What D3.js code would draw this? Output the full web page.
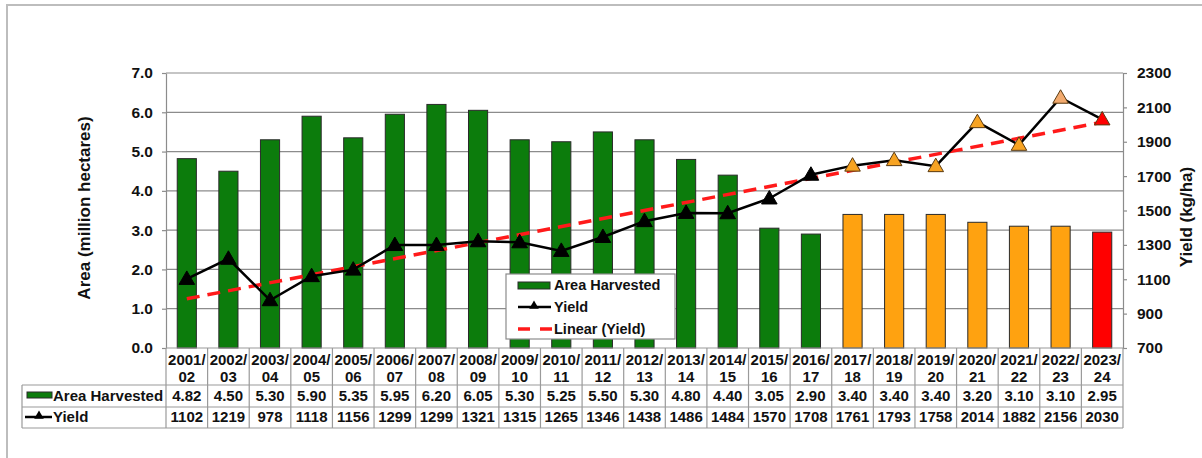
<!DOCTYPE html>
<html>
<head>
<meta charset="utf-8">
<script src="https://cdn.jsdelivr.net/npm/d3@7"></script>
<style>
  body { margin: 0; background: #fff; }
  svg { display: block; font-family: "Liberation Sans", Arial, sans-serif; font-weight: bold; }
  .axis text { fill: #111; }
  .axis line, .axis path { stroke: #8c8c8c; stroke-width: 1.2; }
</style>
</head>
<body>
<svg id="chart" width="1202" height="458"></svg>
<script>
// data
var categories = ["2001/02","2002/03","2003/04","2004/05","2005/06","2006/07","2007/08","2008/09",
  "2009/10","2010/11","2011/12","2012/13","2013/14","2014/15","2015/16","2016/17","2017/18",
  "2018/19","2019/20","2020/21","2021/22","2022/23","2023/24"];
var areaHarvested = [4.82,4.50,5.30,5.90,5.35,5.95,6.20,6.05,5.30,5.25,5.50,5.30,4.80,4.40,3.05,2.90,3.40,3.40,3.40,3.20,3.10,3.10,2.95];
var yieldKgHa = [1102,1219,978,1118,1156,1299,1299,1321,1315,1265,1346,1438,1486,1484,1570,1708,1761,1793,1758,2014,1882,2156,2030];
var yearKind = ["hist","hist","hist","hist","hist","hist","hist","hist","hist","hist","hist","hist","hist","hist","hist","hist",
  "est","est","est","est","est","est2","proj"];
var leftTicks = [0,1,2,3,4,5,6,7];
var rightTicks = [700,900,1100,1300,1500,1700,1900,2100,2300];

var barColor = {hist: "#0c7c0c", est: "#ffa210", est2: "#ffa210", proj: "#ff0000"};
var markColor = {hist: "#000", est: "#f7a322", est2: "#f2aa6e", proj: "#ff0000"};

var svg = d3.select("#chart");
var plotL = 166, plotR = 1123, plotT = 73, plotB = 348;
var rowA = 385, rowB = 407, rowEnd = 428, tableLeft = 22;
var grid = "#8c8c8c";

// outer frame (cropped in the picture, only top and left show)
svg.append("path").attr("d", "M7,458 V5 H1202").attr("fill", "none")
  .attr("stroke", "#bdbdbd").attr("stroke-width", 2);

var x = d3.scaleBand().domain(categories).range([plotL, plotR]).paddingInner(0.54).paddingOuter(0.27);
var step = x.step();
var yL = d3.scaleLinear().domain([0, 7]).range([plotB, plotT]);
var yR = d3.scaleLinear().domain([700, 2300]).range([plotB, plotT]);

// gridlines
svg.append("g").selectAll("line").data(leftTicks.slice(1)).enter().append("line")
  .attr("x1", plotL).attr("x2", plotR)
  .attr("y1", function(d) { return yL(d); }).attr("y2", function(d) { return yL(d); })
  .attr("stroke", grid).attr("stroke-width", 1.2);

// axes
var axL = svg.append("g").attr("class", "axis").attr("transform", "translate(" + plotL + ",0)")
  .call(d3.axisLeft(yL).tickValues(leftTicks).tickFormat(d3.format(".1f")).tickSize(4).tickSizeOuter(0).tickPadding(9));
axL.selectAll("text").style("font-size", "15.5px");
var axR = svg.append("g").attr("class", "axis").attr("transform", "translate(" + plotR + ",0)")
  .call(d3.axisRight(yR).tickValues(rightTicks).tickFormat(d3.format("d")).tickSize(4).tickSizeOuter(0).tickPadding(10));
axR.selectAll("text").style("font-size", "15.5px");

// axis titles
svg.append("text").attr("transform", "translate(90,208) rotate(-90)").attr("text-anchor", "middle")
  .style("font-size", "17px").attr("fill", "#111").text("Area (million hectares)");
svg.append("text").attr("transform", "translate(1192,217) rotate(-90)").attr("text-anchor", "middle")
  .style("font-size", "17px").attr("fill", "#111").text("Yield (kg/ha)");

// bars
svg.append("g").selectAll("rect").data(categories).enter().append("rect")
  .attr("x", function(d) { return x(d); })
  .attr("y", function(d, i) { return yL(areaHarvested[i]); })
  .attr("width", x.bandwidth())
  .attr("height", function(d, i) { return plotB - yL(areaHarvested[i]); })
  .attr("fill", function(d, i) { return barColor[yearKind[i]]; })
  .attr("stroke", "#2a2a2a").attr("stroke-width", 1);

// linear trend of yield (least squares, like the spreadsheet trendline)
var xs = d3.range(yieldKgHa.length), mx = d3.mean(xs), my = d3.mean(yieldKgHa);
var slope = d3.sum(xs, function(i) { return (i - mx) * (yieldKgHa[i] - my); }) /
            d3.sum(xs, function(i) { return (i - mx) * (i - mx); });
var cx = function(i) { return x(categories[i]) + x.bandwidth() / 2; };
svg.append("line")
  .attr("x1", cx(0)).attr("y1", yR(my + slope * (0 - mx)))
  .attr("x2", cx(xs.length - 1)).attr("y2", yR(my + slope * (xs.length - 1 - mx)))
  .attr("stroke", "#ff1a1a").attr("stroke-width", 3.5).attr("stroke-dasharray", "13,8");

// yield line
var line = d3.line().x(function(d, i) { return cx(i); }).y(function(d) { return yR(d); });
svg.append("path").datum(yieldKgHa).attr("d", line).attr("fill", "none")
  .attr("stroke", "#000").attr("stroke-width", 2.5);

var tri = d3.symbol().type(d3.symbolTriangle).size(105);
svg.append("g").selectAll("path").data(yieldKgHa).enter().append("path")
  .attr("d", tri)
  .attr("transform", function(d, i) { return "translate(" + cx(i) + "," + (yR(d) + 1) + ")"; })
  .attr("fill", function(d, i) { return markColor[yearKind[i]]; })
  .attr("stroke", function(d, i) { return yearKind[i] == "hist" ? "#000" : "#5a3a10"; })
  .attr("stroke-width", 1);

// legend
var lg = svg.append("g");
lg.append("rect").attr("x", 506).attr("y", 274).attr("width", 169).attr("height", 65)
  .attr("fill", "#fff").attr("stroke", "#8c8c8c").attr("stroke-width", 1.2);
lg.append("rect").attr("x", 518).attr("y", 282).attr("width", 32).attr("height", 7)
  .attr("fill", barColor.hist).attr("stroke", "#2a2a2a").attr("stroke-width", 1);
lg.append("line").attr("x1", 518).attr("x2", 551).attr("y1", 307).attr("y2", 307)
  .attr("stroke", "#000").attr("stroke-width", 2.5);
lg.append("path").attr("d", d3.symbol().type(d3.symbolTriangle).size(40))
  .attr("transform", "translate(534,306)").attr("fill", "#000");
lg.append("line").attr("x1", 518).attr("x2", 552).attr("y1", 329).attr("y2", 329)
  .attr("stroke", "#ff1a1a").attr("stroke-width", 3.5).attr("stroke-dasharray", "12,10");
var legendLabels = ["Area Harvested", "Yield", "Linear (Yield)"];
lg.selectAll("text.lab").data(legendLabels).enter().append("text")
  .attr("x", 554).attr("y", function(d, i) { return 290 + i * 22; })
  .style("font-size", "14.5px").attr("fill", "#111").text(function(d) { return d; });

// data table
var tb = svg.append("g");
var tline = function(x1, y1, x2, y2) {
  tb.append("line").attr("x1", x1).attr("y1", y1).attr("x2", x2).attr("y2", y2)
    .attr("stroke", "#9a9a9a").attr("stroke-width", 1.2);
};
tline(tableLeft, rowA, plotR, rowA);
tline(tableLeft, rowB, plotR, rowB);
tline(tableLeft, rowEnd, plotR, rowEnd);
tline(plotL, plotB, plotR, plotB);
tline(tableLeft, rowA, tableLeft, rowEnd);
categories.forEach(function(c, i) { tline(plotL + i * step, plotB, plotL + i * step, rowEnd); });
tline(plotR, plotB, plotR, rowEnd);

var cells = tb.selectAll("g.col").data(categories).enter().append("g")
  .attr("transform", function(d, i) { return "translate(" + cx(i) + ",0)"; })
  .attr("text-anchor", "middle").style("font-size", "15px").attr("fill", "#111");
cells.append("text").attr("y", 365).text(function(d) { return d.split("/")[0] + "/"; });
cells.append("text").attr("y", 382).text(function(d) { return d.split("/")[1]; });
cells.append("text").attr("y", 401).text(function(d, i) { return areaHarvested[i].toFixed(2); });
cells.append("text").attr("y", 422).text(function(d, i) { return yieldKgHa[i]; });

// row labels with keys
tb.append("rect").attr("x", 27).attr("y", 392).attr("width", 25).attr("height", 6)
  .attr("fill", barColor.hist).attr("stroke", "#2a2a2a").attr("stroke-width", 1);
tb.append("text").attr("x", 53).attr("y", 401).style("font-size", "15px").attr("fill", "#111").text("Area Harvested");
tb.append("line").attr("x1", 25).attr("x2", 52).attr("y1", 417).attr("y2", 417).attr("stroke", "#000").attr("stroke-width", 2.5);
tb.append("path").attr("d", d3.symbol().type(d3.symbolTriangle).size(40))
  .attr("transform", "translate(39,416)").attr("fill", "#000");
tb.append("text").attr("x", 53).attr("y", 422).style("font-size", "15px").attr("fill", "#111").text("Yield");
</script>
</body>
</html>
